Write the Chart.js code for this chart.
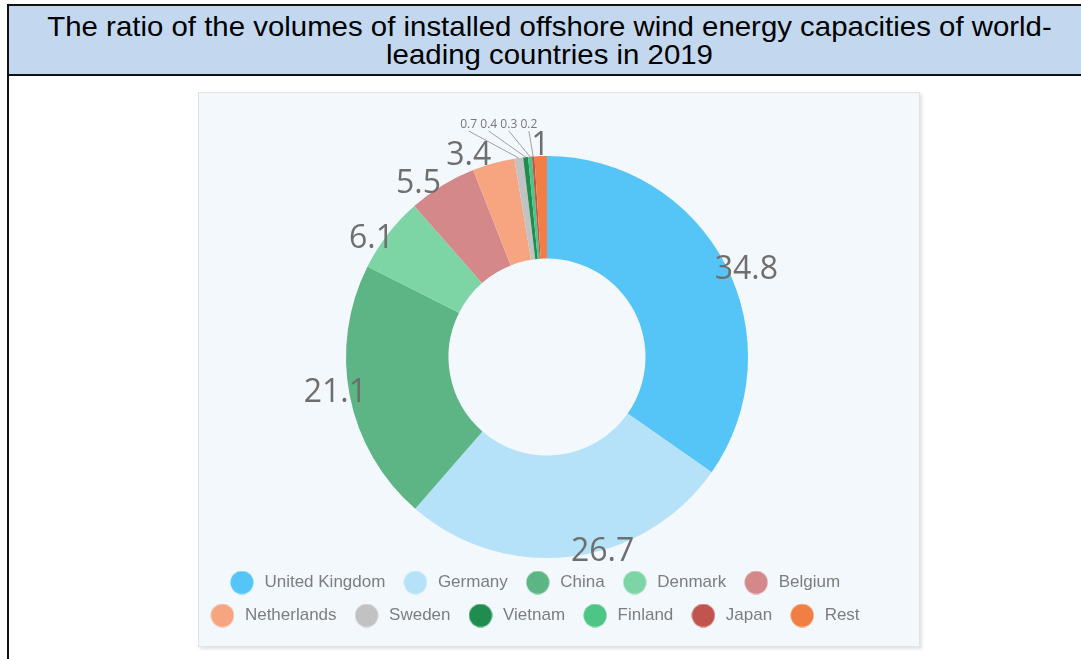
<!DOCTYPE html>
<html lang="en">
  <head>
    <meta charset="UTF-8" />
    <title>Offshore wind capacity 2019</title>
    <script src="https://cdn.jsdelivr.net/npm/chart.js@4.4.1/dist/chart.umd.min.js"></script>
    <style>
      body { margin: 0; background: #fff; width: 1081px; height: 659px; overflow: hidden; position: relative; }
      #frame { position: absolute; left: 7px; top: 4px; width: 1100px; height: 700px; border-left: 2px solid #111; }
      #title {
        height: 61px; padding-top: 7px; background: #c3d8ef; border-top: 2px solid #111; border-bottom: 2px solid #111;
        font-family: "Liberation Sans", Arial, sans-serif; font-size: 28px; line-height: 28px; color: #000; text-align: center;
      }
      #title span { display: block; width: 1081px; transform: scaleX(1.05); transform-origin: 540px 0; }
      #panel {
        position: absolute; left: 198px; top: 92px; width: 720px; height: 553px;
        background: #f3f8fc; border: 1px solid #e3e3e3; box-shadow: 2px 2px 3px rgba(0,0,0,0.12);
      }
    </style>
  </head>
  <body>
    <div id="frame">
      <div id="title"><span>The ratio of the volumes of installed offshore wind energy capacities of world-<br />leading countries in 2019</span></div>
    </div>
    <div id="panel"><canvas id="chart" width="720" height="553"></canvas></div>
    <script>
      const countries = ["United Kingdom", "Germany", "China", "Denmark", "Belgium", "Netherlands", "Sweden", "Vietnam", "Finland", "Japan", "Rest"];
      const shares = [34.8, 26.7, 21.1, 6.1, 5.5, 3.4, 0.7, 0.4, 0.3, 0.2, 1];
      const colours = ["#55c5f7", "#b5e1f9", "#5db586", "#7dd5a6", "#d4888a", "#f6a580", "#c2c2c2", "#1f8d4f", "#4cc585", "#c0554f", "#f07e45"];

      // round legend dots, drawn as small canvases so the size is free
      function dot(colour) {
        const c = document.createElement("canvas");
        c.width = 24;
        c.height = 24;
        const g = c.getContext("2d");
        g.fillStyle = colour;
        g.beginPath();
        g.arc(12, 12, 11.5, 0, Math.PI * 2);
        g.fill();
        return c;
      }

      // value labels outside the ring, small ones pulled up with leader lines
      const sliceLabels = {
        id: "sliceLabels",
        afterDatasetsDraw(chart) {
          const ctx = chart.ctx;
          const values = chart.data.datasets[0].data;
          let k = 0;
          chart.getDatasetMeta(0).data.forEach((arc, i) => {
            const { x, y, startAngle, endAngle, outerRadius } = arc.getProps(["x", "y", "startAngle", "endAngle", "outerRadius"], true);
            const mid = (startAngle + endAngle) / 2;
            const v = values[i];
            ctx.save();
            ctx.textBaseline = "middle";
            if (v >= 1) {
              // labels near the top sit further out than the side ones
              const up = -Math.sin(mid);
              const r = outerRadius - 18 + (up > 0 ? 28 : 14) * up * up;
              ctx.textAlign = Math.cos(mid) >= 0 ? "left" : "right";
              if (Math.abs(Math.cos(mid)) < 0.05) ctx.textAlign = "center";
              ctx.font = '32px "Open Sans"';
              ctx.fillStyle = "#6e6e6e";
              ctx.fillText(String(v), x + Math.cos(mid) * r, y + Math.sin(mid) * r);
            } else {
              const lx = x - outerRadius * (0.39 - 0.1 * k);
              const ly = y - outerRadius - 31;
              ctx.textAlign = "center";
              ctx.font = '12px "Open Sans"';
              ctx.fillStyle = "#777";
              ctx.fillText(v.toFixed(1), lx, ly);
              ctx.strokeStyle = "#8a8a8a";
              ctx.lineWidth = 0.8;
              ctx.beginPath();
              ctx.moveTo(lx, ly + 6);
              ctx.lineTo(x + Math.cos(mid) * outerRadius, y + Math.sin(mid) * outerRadius);
              ctx.stroke();
              k++;
            }
            ctx.restore();
          });
        },
      };

      // the legend sits a little left of the ring's centre
      const legendShift = {
        id: "legendShift",
        afterLayout(chart) {
          chart.legend.left -= 13;
          chart.legend.right -= 13;
        },
      };

      new Chart(document.getElementById("chart"), {
        type: "doughnut",
        data: {
          labels: countries,
          datasets: [{ data: shares, backgroundColor: colours, borderWidth: 0, hoverOffset: 0 }],
        },
        options: {
          responsive: false,
          animation: false,
          devicePixelRatio: 1,
          cutout: "49%",
          layout: { padding: { top: 63, left: 0, right: 24, bottom: 12 } },
          plugins: {
            tooltip: { enabled: false },
            legend: {
              position: "bottom",
              labels: {
                usePointStyle: true,
                pointStyleWidth: 28,
                padding: 16,
                color: "#7d7d7d",
                font: { family: '"Liberation Sans", Arial, sans-serif', size: 17 },
                generateLabels(chart) {
                  const items = Chart.overrides.doughnut.plugins.legend.labels.generateLabels(chart);
                  items.forEach((it) => (it.pointStyle = dot(it.fillStyle)));
                  return items;
                },
              },
            },
          },
        },
        plugins: [sliceLabels, legendShift],
      });
    </script>
  </body>
</html>
